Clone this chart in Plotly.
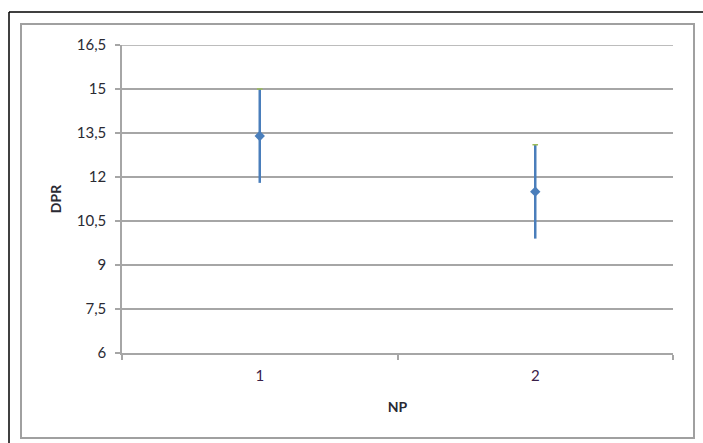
import plotly.graph_objects as go

categories = ["1", "2"]
mean_vals = [13.4, 11.5]
high_vals = [15.0, 13.1]
low_vals = [11.8, 9.9]
y_ticks = [6, 7.5, 9, 10.5, 12, 13.5, 15, 16.5]

err_plus = [h - m for h, m in zip(high_vals, mean_vals)]
err_minus = [m - l for m, l in zip(mean_vals, low_vals)]

BLUE = "#4a7ebb"
GREEN = "#9bbb59"
GRID = "#a6a6a6"
FONT = "Lato"
TXT = "#2a2a33"

fig = go.Figure()
fig.add_trace(go.Scatter(
    x=categories, y=mean_vals, mode="markers",
    marker=dict(symbol="diamond", size=8, color=BLUE),
    error_y=dict(type="data", symmetric=False, array=err_plus, arrayminus=err_minus,
                 color=BLUE, thickness=2.5, width=0),
    showlegend=False,
))
fig.add_trace(go.Scatter(
    x=categories, y=high_vals, mode="markers",
    marker=dict(symbol="line-ew", size=4, line=dict(color=GREEN, width=1.5)),
    showlegend=False,
))

W, H = 703, 443
L, R, T, B = 122, 30, 45, 90
pw, ph = W - L - R, H - T - B

def px(x):
    return (x - L) / pw

def py(y):
    return (H - B - y) / ph

shapes = [
    dict(type="rect", xref="paper", yref="paper",
         x0=px(21), x1=px(694), y0=py(438), y1=py(24),
         line=dict(color="#a0a0a0", width=2)),
    dict(type="line", xref="paper", yref="paper",
         x0=px(9), x1=px(703), y0=py(12), y1=py(12),
         line=dict(color="#000000", width=1.5)),
    dict(type="line", xref="paper", yref="paper",
         x0=px(9), x1=px(9), y0=py(12), y1=py(443),
         line=dict(color="#000000", width=1.5)),
    # top gridline (hidden by plotly at the plot edge)
    dict(type="line", xref="paper", yref="y", layer="below",
         x0=0, x1=1, y0=y_ticks[-1], y1=y_ticks[-1],
         line=dict(color=GRID, width=1.5)),
]

fig.update_layout(
    width=W, height=H,
    margin=dict(l=L, r=R, t=T, b=B),
    paper_bgcolor="white", plot_bgcolor="white",
    separators=", ",
    font=dict(family=FONT, size=15, color=TXT),
    shapes=shapes,
    xaxis=dict(
        type="category", tickson="boundaries", range=[-0.5, 1.5],
        ticks="outside", ticklen=5, tickcolor=GRID, tickwidth=1.5,
        showline=True, linecolor=GRID, linewidth=1.5,
        showgrid=False, zeroline=False, ticklabelstandoff=8,
        tickfont=dict(family=FONT, size=15, color="#3a2048"),
        title=dict(text="<b>NP</b>", font=dict(family=FONT, size=14, color=TXT), standoff=19),
    ),
    yaxis=dict(
        range=[6, 16.5], tickvals=y_ticks,
        ticks="outside", ticklen=5, tickcolor=GRID, tickwidth=1.5,
        showline=True, linecolor=GRID, linewidth=1.5,
        showgrid=True, gridcolor=GRID, gridwidth=1.5, zeroline=False,
        ticklabelstandoff=6,
        tickfont=dict(family=FONT, size=15, color=TXT),
        title=dict(text="<b>DPR</b>", font=dict(family=FONT, size=14, color=TXT), standoff=12),
    ),
)

fig.write_html("out.html", config={"displayModeBar": False},
               post_script="document.body.style.margin='0';")
